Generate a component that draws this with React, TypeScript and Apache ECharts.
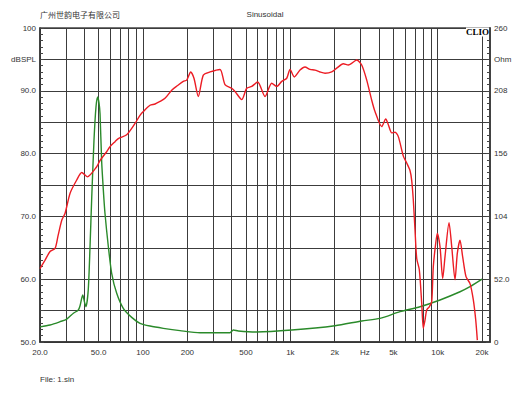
import React, { useEffect, useRef } from "react";
import * as echarts from "echarts";

// SPL response (red, left axis dBSPL)
const splFreq = [20, 21.6, 23.4, 25.3, 26.5, 28.1, 29.6, 32.0, 35.5, 38.4, 41.9, 48.5, 51.1, 56.7, 59.7, 64.6, 68.0, 77.5, 88.3, 95.4, 100.5, 111.6, 120.7, 130.5, 141, 156.6, 170.9, 187.7, 198, 210.8, 221.8, 237.4, 256.6, 285, 333, 360, 400, 421, 467.6, 505.6, 546.8, 600, 673, 747, 808, 874, 945, 995, 1064, 1163, 1257, 1359, 1470, 1589, 1719, 1908, 2064, 2288, 2474, 2822, 3050, 3298, 3566, 3754, 4168, 4438, 4622, 4874, 5132, 5404, 5844, 6162, 6486, 6662, 6830, 7016, 7204, 7502, 7788, 7986, 8200, 8420, 8770, 9104, 9334, 9692, 9938, 10366, 10812, 11210, 11934, 12446, 13106, 13584, 14172, 14784, 15564, 16570, 17448, 18114, 18574];
const splDb = [61.7, 63.0, 64.4, 64.9, 66.9, 69.4, 70.5, 73.7, 75.8, 77.0, 76.3, 77.9, 78.9, 80.3, 81.1, 81.9, 82.4, 83.0, 84.8, 86.1, 86.7, 87.7, 87.9, 88.3, 88.8, 90.1, 90.8, 91.5, 91.7, 93.0, 92.0, 89.1, 92.5, 93.0, 93.4, 91.0, 90.4, 89.9, 88.6, 90.4, 90.7, 91.4, 89.1, 91.2, 90.7, 91.5, 92.0, 93.4, 92.2, 93.3, 93.8, 93.4, 93.3, 93.0, 92.8, 93.0, 93.6, 94.3, 94.1, 94.9, 94.1, 91.7, 88.5, 86.7, 84.3, 85.5, 84.6, 83.3, 83.4, 82.7, 79.6, 78.5, 77.3, 75.7, 72.6, 67.8, 63.3, 61.5, 56.2, 52.2, 53.5, 55.1, 55.6, 56.4, 62.0, 65.7, 67.3, 65.2, 60.1, 63.6, 69.0, 65.2, 59.9, 64.1, 66.2, 63.5, 60.4, 59.3, 56.7, 53.5, 50.3];

// Impedance (green, right axis Ohm)
const impFreq = [20, 23.4, 27.3, 30.4, 33.7, 36.4, 37.4, 39.0, 40.1, 41.0, 42.5, 43.7, 44.9, 46.5, 48.0, 49.3, 50.3, 51.1, 52.4, 53.8, 55.2, 58.2, 61.3, 66.3, 73.5, 83.8, 95.4, 111.6, 137.4, 178.3, 243.8, 389.6, 410, 443.4, 591, 1022, 2009, 3050, 4060, 5550, 7586, 10366, 14172, 16570, 20000];
const impOhm = [12.5, 14.1, 16.8, 19.0, 23.8, 26.5, 30, 38.9, 33, 29.2, 43, 78.9, 120, 167, 195, 203, 198, 189, 150, 126, 106.6, 78.9, 56.9, 40.3, 27.9, 20.4, 15.5, 13.2, 11.3, 9.4, 7.7, 7.7, 9.9, 9.1, 8.3, 9.9, 13.5, 17.4, 19.6, 25.1, 29.2, 34.8, 41.6, 45.8, 52];

// Axis grid / tick labels
const gridFreqs = [20, 30, 40, 50, 60, 70, 80, 90, 100, 200, 300, 400, 500, 600, 700, 800, 900, 1000, 2000, 3000, 4000, 5000, 6000, 7000, 8000, 9000, 10000, 20000];
const xLabelFreqs = [20, 50, 100, 200, 500, 1000, 2000, 3200, 5000, 10000, 20000];
const xLabelTexts = ["20.0", "50.0", "100", "200", "500", "1k", "2k", "Hz", "5k", "10k", "20k"];
const leftTickValues = [100, 95, 90, 80, 70, 60, 50];
const leftTickTexts = ["100", "dBSPL", "90.0", "80.0", "70.0", "60.0", "50.0"];
const rightTickValues = [260, 234, 208, 156, 104, 52, 0];
const rightTickTexts = ["260", "Ohm", "208", "156", "104", "52.0", "0"];

const X_MIN = Math.log10(20);
const X_MAX = Math.log10(22640);

const FONT = "'Liberation Sans', Arial, sans-serif";

export default function App() {
  const ref = useRef<HTMLDivElement>(null);
  useEffect(() => {
    if (!ref.current) return;
    const chart = echarts.init(ref.current, null, { renderer: "svg" });
    const labelFmt = (vals: number[], texts: string[]) => (v: number) => {
      for (let i = 0; i < vals.length; i++) {
        if (Math.abs(vals[i] - v) < 1e-6) return texts[i];
      }
      return "";
    };
    const xLog = xLabelFreqs.map((f) => Math.log10(f));
    chart.setOption({
      animation: false,
      backgroundColor: "#fff",
      grid: { left: 40, top: 28, right: 40, bottom: 56, show: true, borderColor: "#444", borderWidth: 1.5 },
      xAxis: {
        type: "value",
        min: X_MIN,
        max: X_MAX,
        axisLine: { show: true, lineStyle: { color: "#333", width: 1.5 } },
        axisTick: { show: false, customValues: gridFreqs.map((f) => Math.log10(f)) },
        splitLine: { show: true, lineStyle: { color: "#3c3c3c", width: 1 } },
        axisLabel: {
          customValues: xLog,
          formatter: labelFmt(xLog, xLabelTexts),
          fontSize: 8,
          color: "#333",
          fontFamily: FONT,
          margin: 6,
        },
      },
      yAxis: [
        {
          type: "value",
          position: "left",
          min: 50,
          max: 100,
          interval: 5,
          axisLine: { show: true, lineStyle: { color: "#333", width: 1.5 } },
          axisTick: { show: true, inside: true, length: 4, lineStyle: { color: "#444" } },
          minorTick: { show: true, splitNumber: 5, length: 3, lineStyle: { color: "#444" } },
          splitLine: { show: true, lineStyle: { color: "#3c3c3c", width: 1 } },
          axisLabel: {
            formatter: labelFmt(leftTickValues, leftTickTexts),
            fontSize: 8,
            color: "#333",
            fontFamily: FONT,
            margin: 4,
          },
        },
        {
          type: "value",
          position: "right",
          min: 0,
          max: 260,
          interval: 26,
          axisLine: { show: true, lineStyle: { color: "#333", width: 1.5 } },
          axisTick: { show: true, inside: true, length: 4, lineStyle: { color: "#444" } },
          minorTick: { show: true, splitNumber: 5, length: 3, lineStyle: { color: "#444" } },
          splitLine: { show: false },
          axisLabel: {
            formatter: labelFmt(rightTickValues, rightTickTexts),
            fontSize: 8,
            color: "#333",
            fontFamily: FONT,
            margin: 4,
          },
        },
      ],
      series: [
        {
          type: "line",
          yAxisIndex: 1,
          data: impFreq.map((f, i) => [Math.log10(f), impOhm[i]]),
          showSymbol: false,
          smooth: 0.25,
          lineStyle: { color: "#2a8a2a", width: 1.4 },
          z: 3,
        },
        {
          type: "line",
          yAxisIndex: 0,
          data: splFreq.map((f, i) => [Math.log10(f), splDb[i]]),
          showSymbol: false,
          smooth: 0.25,
          lineStyle: { color: "#ec1c24", width: 1.4 },
          z: 4,
        },
      ],
      graphic: [
        {
          type: "text",
          x: 40,
          y: 14,
          style: { text: "广州世韵电子有限公司", fontSize: 8, fill: "#333", fontFamily: "'Noto Sans CJK SC', sans-serif", align: "left", verticalAlign: "middle" },
        },
        {
          type: "text",
          x: 265,
          y: 14,
          style: { text: "Sinusoidal", fontSize: 8, fill: "#333", fontFamily: FONT, align: "center", verticalAlign: "middle" },
        },
        {
          type: "text",
          x: 489,
          y: 32,
          z: 10,
          style: { text: "CLIO", fontSize: 9, fontWeight: "bold", fill: "#000", fontFamily: "'Liberation Serif', 'DejaVu Serif', serif", align: "right", verticalAlign: "middle", backgroundColor: "#fff" },
        },
        {
          type: "text",
          x: 40,
          y: 379,
          style: { text: "File: 1.sin", fontSize: 8, fill: "#333", fontFamily: FONT, align: "left", verticalAlign: "middle" },
        },
      ],
    });
    return () => chart.dispose();
  }, []);
  return <div ref={ref} style={{ position: "fixed", left: 0, top: 0, width: 530, height: 398 }} />;
}
